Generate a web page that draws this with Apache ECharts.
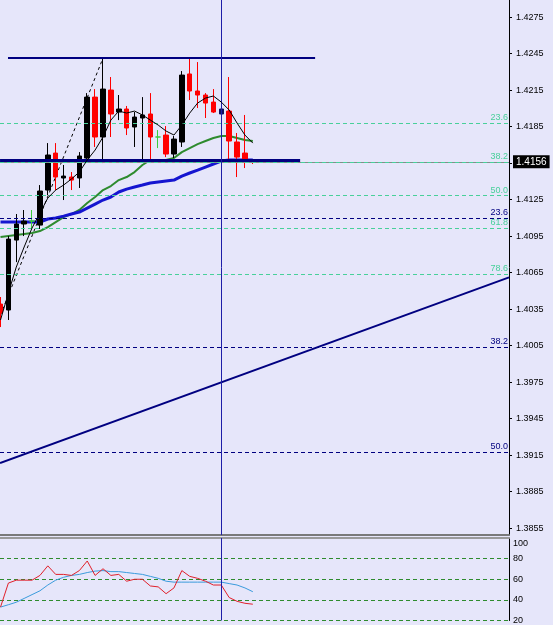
<!DOCTYPE html>
<html><head><meta charset="utf-8">
<script src="https://cdn.jsdelivr.net/npm/echarts@6/dist/echarts.min.js"></script>
<style>html,body{margin:0;padding:0;background:#E6E6FA;overflow:hidden}#c{width:553px;height:625px}</style>
</head><body><div id="c"></div>
<script>
// ---- data ----
const opens  = [1.40391,1.40342,1.40917,1.41049,1.41073,1.41040,1.41328,1.41632,1.41427,1.41435,1.41427,1.41591,1.42092,1.41764,1.42150,1.41969,1.41994,1.41846,1.41920,1.41953,1.41764,1.41780,1.41624,1.41723,1.42282,1.42142,1.42109,1.42051,1.41953,1.41977,1.41723,1.41632,1.41566];
const closes = [1.40317,1.40925,1.41049,1.41073,1.41073,1.41320,1.41616,1.41435,1.41443,1.41410,1.41608,1.42092,1.41764,1.42158,1.41953,1.41994,1.41838,1.41928,1.41945,1.41764,1.41764,1.41624,1.41747,1.42273,1.42142,1.42109,1.42043,1.41969,1.41994,1.41731,1.41599,1.41583,1.41558];
const lows   = [1.40202,1.40260,1.40736,1.40950,1.41016,1.41008,1.41287,1.41328,1.41246,1.41328,1.41345,1.41575,1.41682,1.41550,1.41764,1.41903,1.41780,1.41682,1.41558,1.41550,1.41673,1.41599,1.41591,1.41682,1.42068,1.42002,1.41920,1.41961,1.41953,1.41575,1.41435,1.41509,1.41542];
const highs  = [1.40449,1.40950,1.41131,1.41164,1.41164,1.41369,1.41714,1.41714,1.41534,1.41476,1.41640,1.42125,1.42158,1.42413,1.42257,1.42109,1.42019,1.41969,1.42092,1.42125,1.41821,1.41854,1.41772,1.42306,1.42421,1.42380,1.42125,1.42158,1.41994,1.42257,1.41797,1.41945,1.41575];
const dojiBars = [4, 20];
const selectedBar = 28;

const fastMA = [1.40260,1.40482,1.40695,1.40860,1.41016,1.41139,1.41262,1.41328,1.41369,1.41419,1.41476,1.41575,1.41657,1.41764,1.41903,1.41977,1.41961,1.41977,1.41945,1.41903,1.41862,1.41813,1.41780,1.41862,1.41961,1.42043,1.42084,1.42101,1.42051,1.41986,1.41879,1.41780,1.41714];
const midMA  = [1.40942,1.40950,1.40958,1.40966,1.40975,1.40991,1.41024,1.41065,1.41106,1.41131,1.41164,1.41221,1.41271,1.41328,1.41361,1.41410,1.41435,1.41476,1.41534,1.41575,1.41575,1.41575,1.41591,1.41640,1.41673,1.41706,1.41731,1.41756,1.41772,1.41772,1.41756,1.41739,1.41731];
const slowMA = [1.41065,1.41065,1.41065,1.41065,1.41065,1.41065,1.41090,1.41098,1.41114,1.41131,1.41147,1.41180,1.41213,1.41246,1.41271,1.41312,1.41336,1.41353,1.41369,1.41386,1.41394,1.41402,1.41410,1.41443,1.41468,1.41492,1.41517,1.41542,1.41566,1.41575,1.41575,1.41575,1.41575];

const rsi       = [33.0,56.3,59.1,59.1,59.1,63.7,73.0,64.7,64.7,63.7,68.4,77.7,63.7,70.2,63.7,64.7,58.1,60.0,60.0,53.5,52.6,46.0,51.6,68.4,62.8,60.9,58.1,54.4,54.4,42.3,38.6,36.7,35.8];
const rsiSignal = [33.0,35.3,37.7,41.4,45.1,48.8,54.4,59.1,61.9,63.7,64.7,66.5,67.9,68.4,67.4,67.4,66.5,65.6,64.7,62.8,60.9,58.1,57.2,57.2,57.2,57.2,57.2,57.2,57.2,55.8,54.4,51.6,47.9];

const priceTicks  = [1.4275,1.4245,1.4215,1.4185,1.4155,1.4125,1.4095,1.4065,1.4035,1.4005,1.3975,1.3945,1.3915,1.3885,1.3855];
const priceLabels = [1.4275,1.4245,1.4215,1.4185,1.4125,1.4095,1.4065,1.4035,1.4005,1.3975,1.3945,1.3915,1.3885,1.3855];
const bidPrice = 1.4156;

const fibGreenNames  = ['23.6','38.2','50.0','61.8','78.6'];
const fibGreenPrices = [1.41880,1.41558,1.41283,1.41016,1.40637];
const fibNavyNames   = ['23.6','38.2','50.0'];
const fibNavyPrices  = [1.41098,1.40038,1.39175];

const rangeTop     = {price:1.42413, from:0.95, to:39.9};
const supportLine  = {price:1.41575, from:-0.06, to:38.0};
const trendLine    = [[-0.06,1.39084],[64.49,1.40610]];
const zigzag       = [[0,1.40301],[13,1.42413]];

// ---- chart ----
const X_MIN = -0.0635, X_MAX = 64.49;
const navy = '#000080';
const vline = '#1E1EA8';
const fibGreen = '#48D09A';
const idx = a => a.map((v,i)=>[i,v]);

const candleData = opens.map((o,i)=>{
  const item = {value:[i,o,closes[i],lows[i],highs[i]]};
  if (dojiBars.includes(i)) item.itemStyle = {color:'#3CCB3C',color0:'#3CCB3C',borderColor:'#3CCB3C',borderColor0:'#3CCB3C'};
  if (i===selectedBar) item.itemStyle = {color:'#10105C',color0:'#10105C',borderColor:'#10105C',borderColor0:'#10105C'};
  return item;
});

const fibLines = [];
fibLines.push({yAxis:bidPrice,lineStyle:{color:'#7F8F8A',type:'solid',width:1},
  label:{show:true,position:'end',formatter:'1.4156',color:'#fff',backgroundColor:'#000',fontSize:10,fontFamily:'Liberation Sans',padding:[2,3,1,3],distance:4}});
fibGreenPrices.forEach((p,i)=>fibLines.push({yAxis:p,lineStyle:{color:fibGreen,type:[4,3],width:1},
  label:{show:true,position:'insideEndTop',formatter:fibGreenNames[i],color:fibGreen,fontSize:9,fontFamily:'Liberation Sans',distance:[1,1]}}));
fibNavyPrices.forEach((p,i)=>fibLines.push({yAxis:p,lineStyle:{color:navy,type:[4,3],width:1},
  label:{show:true,position:'insideEndTop',formatter:fibNavyNames[i],color:navy,fontSize:9,fontFamily:'Liberation Sans',distance:[1,1]}}));

const option = {
  animation:false,
  backgroundColor:'#E6E6FA',
  grid:[
    {left:0,right:44,top:0,height:535},
    {left:0,right:44,top:538,height:86}
  ],
  xAxis:[
    {gridIndex:0,type:'value',min:X_MIN,max:X_MAX,axisLine:{show:true,onZero:false,lineStyle:{color:'#7a7a7a',width:2}},axisTick:{show:false},axisLabel:{show:false},splitLine:{show:false}},
    {gridIndex:1,type:'value',position:'top',min:X_MIN,max:X_MAX,axisLine:{show:true,onZero:false,lineStyle:{color:'#9a9a9a',width:2}},axisTick:{show:false},axisLabel:{show:false},splitLine:{show:false}}
  ],
  yAxis:[
    {gridIndex:0,type:'value',position:'right',min:1.38493,max:1.42890,
     axisLine:{show:true,onZero:false,lineStyle:{color:'#000',width:1}},
     axisTick:{show:true,length:3,customValues:priceTicks,lineStyle:{color:'#000'}},
     axisLabel:{customValues:priceLabels,formatter:v=>v.toFixed(4),color:'#000',fontSize:9,fontFamily:'Liberation Sans',margin:7},
     splitLine:{show:false}},
    {gridIndex:1,type:'value',position:'right',min:20,max:100,interval:20,
     axisLine:{show:true,onZero:false,lineStyle:{color:'#000',width:1}},
     axisTick:{show:false},
     axisLabel:{color:'#000',fontSize:9,fontFamily:'Liberation Sans',margin:4,
       formatter:v=>v===100?'{t|100}':String(v),rich:{t:{padding:[12,0,0,0],fontSize:9,color:'#000'}}},
     splitLine:{show:true,lineStyle:{color:'#2E8B2E',type:[4,3],width:1}}}
  ],
  series:[
    {type:'line',xAxisIndex:0,yAxisIndex:0,data:[],silent:true,
     markLine:{silent:true,precision:6,symbol:['none','none'],data:fibLines}},
    {type:'line',xAxisIndex:0,yAxisIndex:0,data:zigzag,showSymbol:false,silent:true,z:3,
     lineStyle:{color:'#000',width:1,type:[3,3]}},
    {type:'line',xAxisIndex:0,yAxisIndex:0,data:idx(midMA),showSymbol:false,silent:true,z:3,
     lineStyle:{color:'#2E8B2E',width:2}},
    {type:'line',xAxisIndex:0,yAxisIndex:0,data:idx(slowMA),showSymbol:false,silent:true,z:3,
     lineStyle:{color:'#1515D0',width:3}},
    {type:'candlestick',xAxisIndex:0,yAxisIndex:0,encode:{x:0,y:[1,2,3,4]},barWidth:5,z:4,silent:true,
     itemStyle:{color:'#000',color0:'#FF0000',borderColor:'#000',borderColor0:'#FF0000',borderWidth:1},
     data:candleData},
    {type:'line',xAxisIndex:0,yAxisIndex:0,data:idx(fastMA),showSymbol:false,silent:true,z:5,
     lineStyle:{color:'#000',width:1}},
    {type:'line',xAxisIndex:0,yAxisIndex:0,data:[],silent:true,z:6,
     markLine:{silent:true,precision:6,symbol:['none','none'],label:{show:false},data:[
       [{coord:[rangeTop.from,rangeTop.price]},{coord:[rangeTop.to,rangeTop.price]}],
       [{coord:[supportLine.from,supportLine.price],lineStyle:{width:3}},{coord:[supportLine.to,supportLine.price]}],
       [{coord:trendLine[0]},{coord:trendLine[1]}],
       {xAxis:selectedBar,lineStyle:{width:1,color:vline}}
     ],lineStyle:{color:navy,width:2,type:'solid'}}},
    {type:'line',xAxisIndex:1,yAxisIndex:1,data:idx(rsiSignal),showSymbol:false,silent:true,
     lineStyle:{color:'#3A9BDC',width:1}},
    {type:'line',xAxisIndex:1,yAxisIndex:1,data:idx(rsi),showSymbol:false,silent:true,
     lineStyle:{color:'#E0202A',width:1},
     markLine:{silent:true,precision:6,symbol:['none','none'],label:{show:false},data:[{xAxis:selectedBar}],lineStyle:{color:vline,width:1,type:'solid'}}}
  ]
};
const chart = echarts.init(document.getElementById('c'),null,{renderer:'canvas'});
chart.setOption(option);
</script>
</body></html>
